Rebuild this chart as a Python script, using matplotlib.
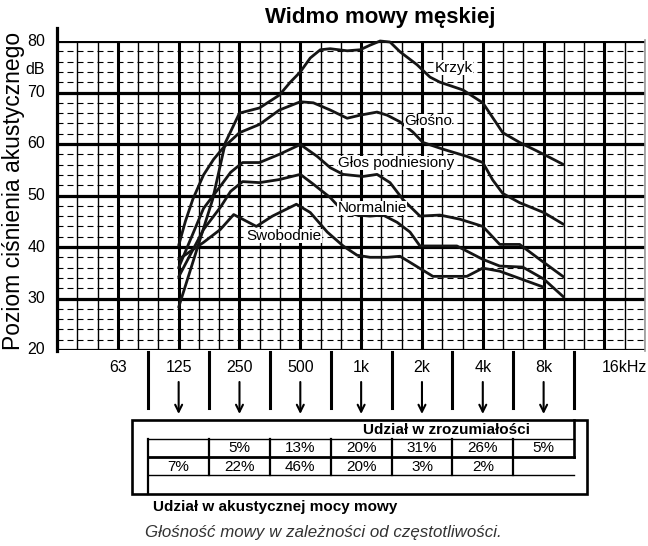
import numpy as np
import matplotlib
matplotlib.use('Agg')
import matplotlib.pyplot as plt
from matplotlib.transforms import blended_transform_factory
from matplotlib.lines import Line2D
from matplotlib.patches import Rectangle
from matplotlib.ticker import NullLocator

plt.rcParams['font.family'] = ['Liberation Sans', 'DejaVu Sans']

# ---------------- data ----------------
title = "Widmo mowy męskiej"
ylabel = "Poziom ciśnienia akustycznego"

krzyk_f = [125, 184, 213, 250, 314, 394, 446, 500, 560, 628, 703, 853, 989, 1108, 1241, 1390, 1558, 1890, 2190, 2454, 3187, 4000, 5021, 6090, 8000, 10042]
krzyk_db = [28.3, 49.2, 60.3, 66.0, 67.0, 69.5, 72.0, 74.0, 76.7, 78.3, 78.5, 78.1, 78.3, 79.2, 80.0, 79.8, 77.9, 75.4, 73.0, 72.0, 70.5, 68.0, 62.2, 60.3, 58.0, 56.0]

glosno_f = [125, 135, 147, 166, 186, 208, 250, 314, 394, 500, 580, 703, 853, 989, 1199, 1344, 1558, 1806, 2023, 2539, 3335, 4000, 4481, 5021, 6090, 8000, 10042]
glosno_db = [40.3, 45.0, 49.3, 54.0, 57.0, 59.3, 62.2, 63.8, 66.6, 68.2, 68.0, 66.6, 65.0, 65.6, 66.2, 65.6, 64.3, 62.3, 60.3, 59.0, 57.6, 56.4, 53.0, 50.4, 48.6, 46.7, 44.4]

podn_f = [125, 166, 201, 226, 259, 314, 394, 500, 606, 703, 815, 1023, 1199, 1390, 1612, 1955, 2454, 3080, 4000, 4852, 6090, 7644, 10042]
podn_db = [36.0, 47.5, 51.8, 54.5, 56.4, 56.4, 58.0, 59.9, 57.6, 55.4, 54.1, 53.7, 54.1, 52.5, 49.2, 46.0, 46.2, 45.4, 44.0, 40.5, 40.5, 37.6, 34.2]

norm_f = [125, 166, 201, 226, 259, 314, 394, 500, 580, 703, 815, 955, 1108, 1284, 1506, 1745, 1955, 2977, 4000, 4852, 6302, 8000, 10042]
norm_db = [34.2, 43.4, 47.7, 50.8, 52.7, 52.5, 53.1, 54.1, 52.2, 49.6, 46.9, 46.2, 46.0, 46.2, 44.8, 42.9, 40.2, 40.2, 37.6, 36.3, 36.1, 33.8, 30.3]

swob_f = [125, 166, 201, 234, 259, 303, 364, 478, 560, 680, 815, 955, 1108, 1344, 1558, 2266, 3335, 4000, 4852, 8000]
swob_db = [37.6, 40.9, 43.4, 46.3, 45.4, 44.0, 46.0, 48.3, 46.7, 42.9, 40.2, 38.4, 38.0, 38.0, 38.2, 34.3, 34.3, 35.9, 35.3, 32.2]

curve_names = ["Krzyk", "Głośno", "Głos podniesiony", "Normalnie", "Swobodnie"]
label_f = [2878, 2141, 1489, 1133, 417]
label_db = [74.8, 64.5, 56.3, 47.6, 42.1]

freq_ticks = [62.5, 125, 250, 500, 1000, 2000, 4000, 8000, 16000]
freq_labels = ["63", "125", "250", "500", "1k", "2k", "4k", "8k", "16kHz"]
db_ticks = [20, 30, 40, 50, 60, 70, 80]

band_f = [125, 250, 500, 1000, 2000, 4000, 8000]
intelligibility = ["", "5%", "13%", "20%", "31%", "26%", "5%"]
power_share = ["7%", "22%", "46%", "20%", "3%", "2%", ""]

W, H = 648, 546
fig = plt.figure(figsize=(W / 100, H / 100), dpi=100)

def px(x, y):
    return x / W, 1 - y / H

ax_l, ax_r, ax_t, ax_b = 57, 645, 41, 350
ax = fig.add_axes([ax_l / W, 1 - ax_b / H, (ax_r - ax_l) / W, (ax_b - ax_t) / H])
ax.set_xscale('log', base=2)
xmin, xmax = 31.25, 16000 * 2 ** (2 / 3)
ax.set_xlim(xmin, xmax)
ax.set_ylim(20, 80)
for s in ax.spines.values():
    s.set_visible(False)
ax.xaxis.set_minor_locator(NullLocator())
ax.set_xticks([])
ax.set_yticks([])

# grid: vertical
for k in range(0, 30):
    f = xmin * 2 ** (k / 3)
    if f > xmax * 1.001:
        break
    if k % 3 == 0:
        ax.axvline(f, color='black', lw=2.2, zorder=2)
    else:
        ax.axvline(f, color='black', lw=1.0, zorder=1)
# grid: horizontal
for d in range(20, 81, 2):
    if d % 10 == 0:
        ax.axhline(d, color='black', lw=2.3, zorder=2)
    else:
        ax.axhline(d, color='black', lw=0.8, ls=(0, (5.4, 3.6)), zorder=1)

# curves
series = [(krzyk_f, krzyk_db), (glosno_f, glosno_db), (podn_f, podn_db),
          (norm_f, norm_db), (swob_f, swob_db)]
for f, d in series:
    ax.plot(f, d, color='#151515', lw=2.0, solid_joinstyle='round',
            solid_capstyle='round', zorder=4, clip_on=False)

for name, f, d in zip(curve_names, label_f, label_db):
    ax.text(f, d, name, ha='center', va='center', fontsize=11, zorder=5,
            bbox=dict(fc='white', ec='none', pad=0.2))

# y tick labels
ytr = blended_transform_factory(ax.transAxes, ax.transData)
for d in db_ticks:
    ax.text(-12 / (ax_r - ax_l), d, str(d), transform=ytr, ha='right', va='center', fontsize=11.5)
ax.text(-12 / (ax_r - ax_l), 74.5, "dB", transform=ytr, ha='right', va='center', fontsize=11.5)

# left axis extension and right border
fig.add_artist(Line2D([px(57, 0)[0]] * 2, [px(0, 28)[1], px(0, 351)[1]], color='black', lw=2.3))
fig.add_artist(Line2D([px(645, 0)[0]] * 2, [px(0, 40)[1], px(0, 351)[1]], color='#999999', lw=1.2))

# frequency labels, separators, arrows
tb = blended_transform_factory(ax.transData, ax.transAxes)
hpx = ax_b - ax_t
def ay(y):
    return (ax_b - y) / hpx
for f, lab in zip(freq_ticks, freq_labels):
    xf = f if lab != "16kHz" else f * 2 ** (1 / 3)
    ax.text(xf, ay(368), lab, transform=tb, ha='center', va='center', fontsize=11.5, clip_on=False)
for f in freq_ticks[:-1]:
    m = f * 2 ** 0.5
    ax.add_line(Line2D([m, m], [ay(352), ay(408)], transform=tb, color='black', lw=2.2, clip_on=False))
for f in band_f:
    ax.annotate('', xy=(f, ay(414)), xytext=(f, ay(382)), xycoords=tb, textcoords=tb,
                arrowprops=dict(arrowstyle='->,head_length=0.5,head_width=0.25', lw=1.5,
                                color='black', shrinkA=0, shrinkB=0))

# table
tf = blended_transform_factory(ax.transData, fig.transFigure)
def fy(y):
    return 1 - y / H
x_lo = freq_ticks[0] * 2 ** 0.5
x_hi = freq_ticks[-2] * 2 ** 0.5
fig.add_artist(Rectangle(px(132, 494), (587 - 132) / W, (494 - 420) / H, fill=False, ec='black', lw=1.9))
ax.add_line(Line2D([x_hi, x_hi], [fy(420), fy(457)], transform=tf, color='black', lw=1.9, clip_on=False))
ax.add_line(Line2D([x_lo, x_hi], [fy(457), fy(457)], transform=tf, color='black', lw=2.0, clip_on=False))
ax.add_line(Line2D([x_lo, x_hi], [fy(439), fy(439)], transform=tf, color='black', lw=1.0, clip_on=False))
ax.add_line(Line2D([x_lo, x_hi], [fy(475), fy(475)], transform=tf, color='black', lw=1.0, clip_on=False))
ax.add_line(Line2D([x_lo, x_lo], [fy(439), fy(494)], transform=tf, color='black', lw=1.6, clip_on=False))
for f in band_f[:-1]:
    m = f * 2 ** 0.5
    ax.add_line(Line2D([m, m], [fy(439), fy(475)], transform=tf, color='black', lw=1.6, clip_on=False))
for f, a, b in zip(band_f, intelligibility, power_share):
    if a:
        ax.text(f, fy(448), a, transform=tf, ha='center', va='center', fontsize=11, clip_on=False)
    if b:
        ax.text(f, fy(467), b, transform=tf, ha='center', va='center', fontsize=11, clip_on=False)

fig.text(*px(447, 430), "Udział w zrozumiałości", ha='center', va='center', fontsize=11, fontweight='bold')
fig.text(*px(153, 507), "Udział w akustycznej mocy mowy", ha='left', va='center', fontsize=11, fontweight='bold')
fig.text(*px(323, 532), "Głośność mowy w zależności od częstotliwości.", ha='center', va='center',
         fontsize=12.2, style='italic', color='#333333')
fig.text(*px(380, 18), title, ha='center', va='center', fontsize=16, fontweight='bold')
fig.text(*px(14, 191), ylabel, ha='center', va='center', fontsize=16.5, rotation=90)

fig.savefig('out.png', dpi=100)
